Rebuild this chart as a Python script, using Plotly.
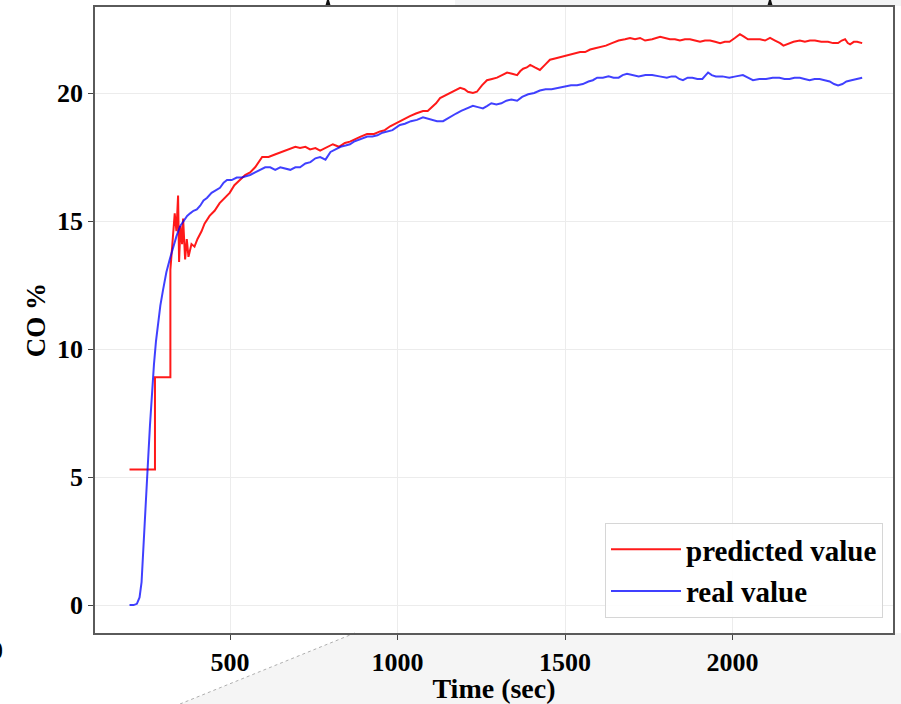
import plotly.graph_objects as go

# ---------------- data ----------------
time_pred = [200, 276, 276, 322, 322, 328, 335, 340, 345, 348,
             352, 357, 360, 366, 371, 376, 385, 394, 403, 415,
             424, 439, 454, 469, 484, 499, 513, 528, 545, 560,
             575, 596, 615, 634, 655, 679, 695, 709, 725, 739,
             755, 769, 790, 807, 825, 843, 858, 873, 890, 909,
             930, 948, 962, 978, 992, 1007, 1022, 1037, 1055, 1076,
             1090, 1103, 1115, 1127, 1142, 1157, 1172, 1187, 1200, 1210,
             1225, 1237, 1252, 1267, 1282, 1297, 1312, 1327, 1342, 1357,
             1366, 1375, 1386, 1396, 1410, 1425, 1440, 1455, 1470, 1485,
             1500, 1515, 1530, 1545, 1560, 1575, 1590, 1604, 1622, 1640,
             1660, 1679, 1694, 1709, 1724, 1739, 1760, 1784, 1798, 1813,
             1828, 1843, 1858, 1873, 1888, 1903, 1918, 1933, 1948, 1963,
             1977, 1991, 2007, 2022, 2034, 2046, 2064, 2082, 2097, 2112,
             2127, 2142, 2152, 2163, 2182, 2201, 2216, 2231, 2246, 2265,
             2285, 2300, 2315, 2326, 2336, 2344, 2351, 2362, 2372, 2387]

co_pred = [5.3, 5.3, 8.9, 8.9, 13.1, 14.0, 15.3, 14.6, 16.0, 13.4,
           14.8, 14.1, 15.1, 13.5, 14.3, 13.6, 14.1, 14.0, 14.3, 14.6,
           14.9, 15.2, 15.4, 15.7, 15.9, 16.1, 16.4, 16.6, 16.8, 16.9,
           17.1, 17.5, 17.5, 17.6, 17.7, 17.8, 17.9, 17.85, 17.9, 17.8,
           17.85, 17.75, 17.9, 18.0, 17.9, 18.05, 18.1, 18.2, 18.3, 18.4,
           18.4, 18.5, 18.55, 18.7, 18.8, 18.9, 19.0, 19.1, 19.2, 19.3,
           19.3, 19.45, 19.6, 19.8, 19.9, 20.0, 20.1, 20.2, 20.15, 20.05,
           20.0, 20.05, 20.3, 20.5, 20.55, 20.6, 20.7, 20.8, 20.75, 20.7,
           20.85, 20.95, 21.0, 21.1, 21.0, 20.9, 21.1, 21.3, 21.35, 21.4,
           21.45, 21.5, 21.55, 21.6, 21.6, 21.7, 21.75, 21.8, 21.85, 21.95,
           22.05, 22.1, 22.15, 22.1, 22.15, 22.05, 22.1, 22.2, 22.15, 22.1,
           22.1, 22.05, 22.1, 22.1, 22.05, 22.0, 22.05, 22.05, 22.0, 21.95,
           22.0, 22.0, 22.15, 22.3, 22.2, 22.1, 22.1, 22.1, 22.05, 22.15,
           22.05, 21.95, 21.85, 21.9, 22.0, 22.05, 22.0, 22.05, 22.05, 22.0,
           22.0, 21.95, 21.95, 22.05, 22.1, 21.95, 21.9, 22.0, 22.0, 21.95]

time_real = [200, 212, 222, 230, 236, 241, 246, 251, 256, 261,
             267, 273, 279, 285, 292, 300, 310, 320, 330, 340,
             351, 362, 372, 381, 391, 401, 411, 421, 431, 445,
             458, 470, 481, 491, 505, 520, 535, 548, 560, 575,
             590, 605, 620, 635, 650, 665, 680, 695, 709, 725,
             740, 755, 769, 785, 800, 815, 830, 845, 858, 870,
             880, 895, 910, 925, 940, 955, 970, 985, 1007, 1022,
             1040, 1058, 1076, 1088, 1100, 1118, 1136, 1148, 1160, 1175,
             1190, 1208, 1225, 1240, 1255, 1268, 1280, 1295, 1310, 1325,
             1340, 1357, 1372, 1390, 1408, 1425, 1442, 1460, 1480, 1500,
             1518, 1536, 1553, 1570, 1583, 1596, 1613, 1630, 1645, 1660,
             1672, 1685, 1700, 1720, 1740, 1760, 1782, 1804, 1818, 1830,
             1841, 1852, 1866, 1880, 1895, 1910, 1920, 1927, 1938, 1950,
             1970, 1990, 2010, 2031, 2046, 2061, 2080, 2100, 2120, 2140,
             2155, 2170, 2185, 2201, 2215, 2230, 2245, 2260, 2275, 2290,
             2303, 2315, 2328, 2340, 2355, 2370, 2387]

co_real = [0.0, 0.0, 0.05, 0.3, 0.9, 2.0, 3.4, 4.6, 5.8, 7.0,
           8.3, 9.4, 10.3, 11.0, 11.7, 12.3, 13.0, 13.5, 14.0, 14.4,
           14.8, 15.0, 15.2, 15.3, 15.4, 15.45, 15.6, 15.8, 15.9, 16.1,
           16.2, 16.3, 16.5, 16.6, 16.6, 16.7, 16.7, 16.75, 16.8, 16.9,
           17.0, 17.1, 17.1, 17.0, 17.1, 17.05, 17.0, 17.1, 17.1, 17.25,
           17.3, 17.45, 17.5, 17.4, 17.7, 17.8, 17.9, 17.95, 18.0, 18.1,
           18.15, 18.2, 18.3, 18.3, 18.35, 18.45, 18.5, 18.55, 18.75, 18.8,
           18.9, 18.95, 19.05, 19.0, 18.95, 18.9, 18.9, 19.0, 19.1, 19.2,
           19.3, 19.4, 19.5, 19.45, 19.4, 19.5, 19.6, 19.55, 19.6, 19.7,
           19.75, 19.7, 19.85, 19.95, 20.0, 20.1, 20.15, 20.15, 20.2, 20.25,
           20.3, 20.3, 20.35, 20.45, 20.5, 20.6, 20.6, 20.65, 20.6, 20.6,
           20.7, 20.75, 20.7, 20.65, 20.7, 20.7, 20.65, 20.6, 20.65, 20.65,
           20.55, 20.5, 20.6, 20.6, 20.55, 20.55, 20.7, 20.8, 20.7, 20.65,
           20.65, 20.6, 20.65, 20.7, 20.6, 20.5, 20.55, 20.55, 20.6, 20.6,
           20.55, 20.55, 20.6, 20.6, 20.55, 20.5, 20.55, 20.55, 20.5, 20.45,
           20.35, 20.3, 20.35, 20.45, 20.5, 20.55, 20.6]

x_ticks = [500, 1000, 1500, 2000]
y_ticks = [0, 5, 10, 15, 20]
series_names = ["predicted value", "real value"]

# ---------------- figure ----------------
W, H = 901, 704
ML, MR, MT, MB = 95, 8, 7, 71
PW, PH = W - ML - MR, H - MT - MB


def px(xp):
    return (xp - ML) / PW


def py(yp):
    return (H - MB - yp) / PH


FONT = "Liberation Serif"

fig = go.Figure()
fig.add_trace(go.Scatter(x=time_pred, y=co_pred, mode="lines",
                         name="<b>" + series_names[0] + "</b>", legendgroup="a",
                         line=dict(color="rgba(255,0,0,0.9)", width=2)))
fig.add_trace(go.Scatter(x=time_real, y=co_real, mode="lines",
                         name="<b>" + series_names[1] + "</b>", legendgroup="b",
                         line=dict(color="rgba(0,0,255,0.75)", width=2)))

axis_common = dict(showline=True, linecolor="#5a5a5a", linewidth=1.5, mirror=True,
                   showgrid=True, gridcolor="#ececec", gridwidth=1,
                   ticks="outside", ticklen=5, tickwidth=1.2, tickcolor="#444",
                   zeroline=False, automargin=False,
                   tickfont=dict(family=FONT, size=26, color="black", weight="bold"))

fig.update_xaxes(range=[97, 2479], tickvals=x_ticks,
                 title=dict(text="<b>Time (sec)</b>", font=dict(family=FONT, size=28, color="black"),
                            standoff=5),
                 **axis_common)
fig.update_yaxes(range=[-1.09, 23.36], tickvals=y_ticks,
                 title=dict(text="<b>CO %</b>", font=dict(family=FONT, size=27, color="black"),
                            standoff=4),
                 **axis_common)

shapes = [
    # grey background region below the plot (slide artefact)
    dict(type="path", xref="paper", yref="paper",
         path=f"M {px(180)} {py(704)} L {px(355)} {py(633)} L {px(905)} {py(633)} L {px(905)} {py(708)} Z",
         fillcolor="#f5f5f5", line=dict(width=0), layer="below"),
    dict(type="line", xref="paper", yref="paper", x0=px(180), y0=py(704), x1=px(355), y1=py(633),
         line=dict(color="#9a9a9a", width=0.8, dash="dot"), layer="below"),
    # grey strip at the top
    dict(type="rect", xref="paper", yref="paper", x0=px(455), x1=px(905), y0=py(6), y1=py(-2),
         fillcolor="#f3f4f5", line=dict(width=0), layer="below"),
    # small dark marks at the top edge
    dict(type="path", xref="paper", yref="paper",
         path=f"M {px(325)} {py(7)} L {px(327)} {py(0)} L {px(329)} {py(0)} L {px(331)} {py(7)} Z",
         fillcolor="#111", line=dict(width=0), layer="below"),
    dict(type="path", xref="paper", yref="paper",
         path=f"M {px(767)} {py(7)} L {px(769)} {py(0)} L {px(771)} {py(0)} L {px(773)} {py(7)} Z",
         fillcolor="#111", line=dict(width=0), layer="below"),
]

fig.update_layout(
    width=W, height=H,
    margin=dict(l=ML, r=MR, t=MT, b=MB, autoexpand=False),
    paper_bgcolor="white", plot_bgcolor="white",
    font=dict(family=FONT, color="black"),
    showlegend=True,
    legend=dict(x=px(883), y=py(618), xanchor="right", yanchor="bottom",
                bgcolor="rgba(255,255,255,0.9)", bordercolor="#d6d6d6", borderwidth=1,
                font=dict(family=FONT, size=29, color="black"),
                itemwidth=70, tracegroupgap=1),
    shapes=shapes,
    annotations=[dict(text="<b>0</b>", xref="paper", yref="paper", x=px(5), y=py(650),
                      xanchor="right", yanchor="middle", showarrow=False,
                      font=dict(family=FONT, size=26, color="black"))],
)

fig.write_html("out.html")
